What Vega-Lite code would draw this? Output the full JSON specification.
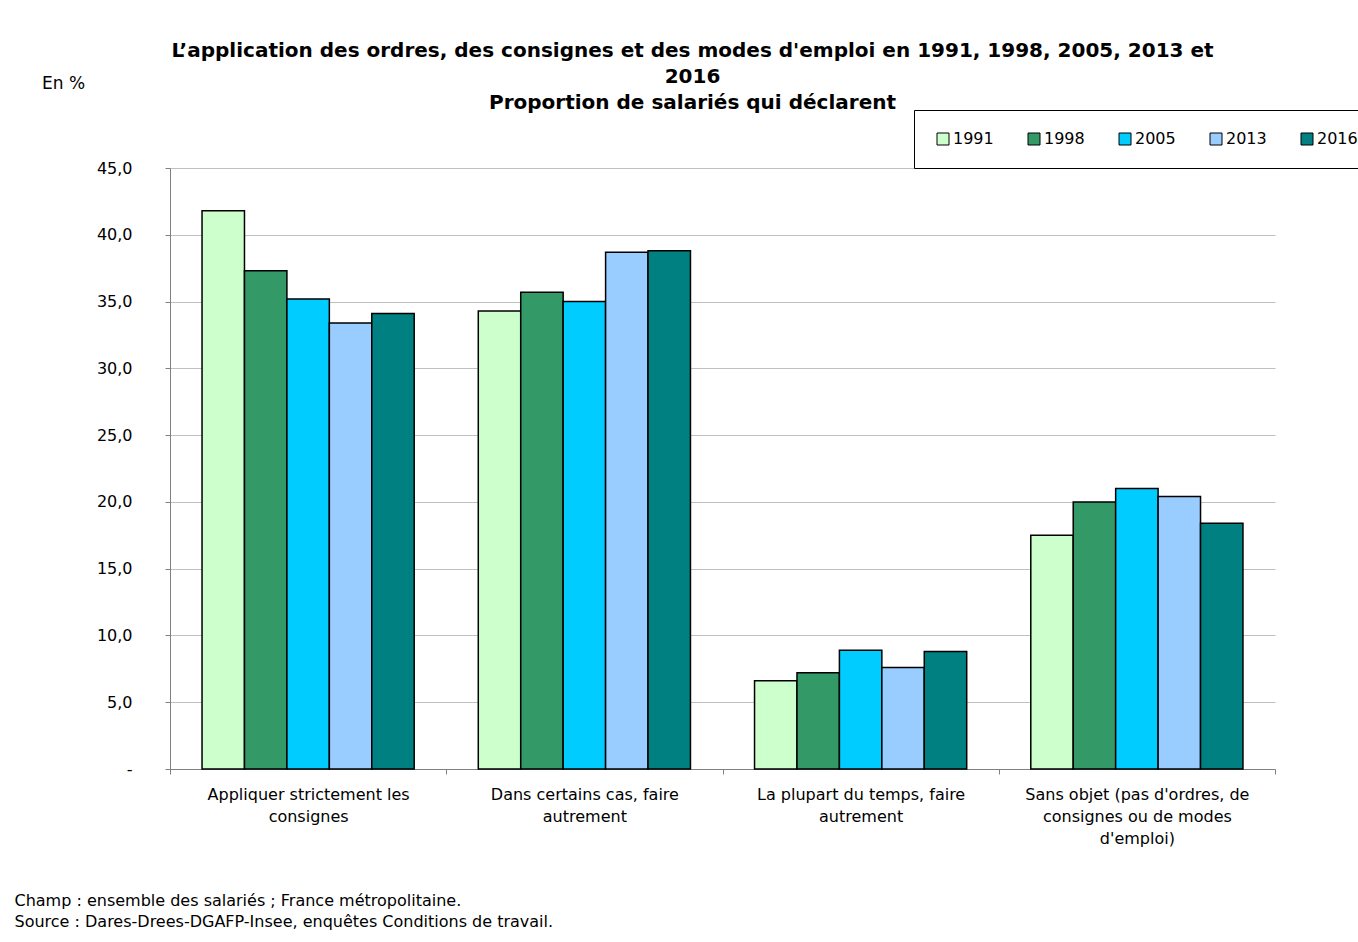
{
  "$schema": "https://vega.github.io/schema/vega-lite/v6.json",
  "width": 1105,
  "height": 601,
  "autosize": "none",
  "padding": {"left": 170, "top": 168, "right": 83, "bottom": 173},
  "background": "white",
  "config": {"view": {"stroke": null}, "font": "DejaVu Sans"},
  "title": {
    "text": ["L’application des ordres, des consignes et des modes d'emploi en 1991, 1998, 2005, 2013 et", "2016"],
    "subtitle": "Proportion de salariés qui déclarent",
    "anchor": "middle",
    "frame": "group",
    "dx": -30,
    "dy": 43,
    "fontSize": 20,
    "fontWeight": "bold",
    "subtitleFontSize": 20,
    "subtitleFontWeight": "bold",
    "lineHeight": 26,
    "subtitleLineHeight": 26,
    "subtitlePadding": 6,
    "color": "black",
    "subtitleColor": "black",
    "offset": 4
  },
  "data": {
    "values": [
      {"categorie": "Appliquer strictement les consignes", "annee": "1991", "valeur": 41.8},
      {"categorie": "Appliquer strictement les consignes", "annee": "1998", "valeur": 37.3},
      {"categorie": "Appliquer strictement les consignes", "annee": "2005", "valeur": 35.2},
      {"categorie": "Appliquer strictement les consignes", "annee": "2013", "valeur": 33.4},
      {"categorie": "Appliquer strictement les consignes", "annee": "2016", "valeur": 34.1},
      {"categorie": "Dans certains cas, faire autrement", "annee": "1991", "valeur": 34.3},
      {"categorie": "Dans certains cas, faire autrement", "annee": "1998", "valeur": 35.7},
      {"categorie": "Dans certains cas, faire autrement", "annee": "2005", "valeur": 35.0},
      {"categorie": "Dans certains cas, faire autrement", "annee": "2013", "valeur": 38.7},
      {"categorie": "Dans certains cas, faire autrement", "annee": "2016", "valeur": 38.8},
      {"categorie": "La plupart du temps, faire autrement", "annee": "1991", "valeur": 6.6},
      {"categorie": "La plupart du temps, faire autrement", "annee": "1998", "valeur": 7.2},
      {"categorie": "La plupart du temps, faire autrement", "annee": "2005", "valeur": 8.9},
      {"categorie": "La plupart du temps, faire autrement", "annee": "2013", "valeur": 7.6},
      {"categorie": "La plupart du temps, faire autrement", "annee": "2016", "valeur": 8.8},
      {"categorie": "Sans objet (pas d'ordres, de consignes ou de modes d'emploi)", "annee": "1991", "valeur": 17.5},
      {"categorie": "Sans objet (pas d'ordres, de consignes ou de modes d'emploi)", "annee": "1998", "valeur": 20.0},
      {"categorie": "Sans objet (pas d'ordres, de consignes ou de modes d'emploi)", "annee": "2005", "valeur": 21.0},
      {"categorie": "Sans objet (pas d'ordres, de consignes ou de modes d'emploi)", "annee": "2013", "valeur": 20.4},
      {"categorie": "Sans objet (pas d'ordres, de consignes ou de modes d'emploi)", "annee": "2016", "valeur": 18.4}
    ]
  },
  "mark": {"type": "bar", "stroke": "black", "strokeWidth": 1.5},
  "encoding": {
    "x": {
      "field": "categorie",
      "type": "nominal",
      "sort": null,
      "scale": {"paddingInner": 0, "paddingOuter": 0},
      "axis": {
        "title": ["Champ : ensemble des salariés ; France métropolitaine.", "Source : Dares-Drees-DGAFP-Insee, enquêtes Conditions de travail."],
        "titleX": -156,
        "titleY": 123,
        "titleAlign": "left",
        "titleBaseline": "top",
        "titleAngle": 0,
        "titleFontSize": 16,
        "titleFontWeight": "normal",
        "titleColor": "black",
        "titleLineHeight": 21,
        "labelAngle": 0,
        "labelFontSize": 16,
        "labelColor": "black",
        "labelLineHeight": 22,
        "labelBaseline": "top",
        "labelPadding": 12,
        "labelLimit": 400,
        "labelExpr": "datum.label == 'Appliquer strictement les consignes' ? ['Appliquer strictement les', 'consignes'] : datum.label == 'Dans certains cas, faire autrement' ? ['Dans certains cas, faire', 'autrement'] : datum.label == 'La plupart du temps, faire autrement' ? ['La plupart du temps, faire', 'autrement'] : datum.label == 'Sans objet (pas d\\'ordres, de consignes ou de modes d\\'emploi)' ? ['Sans objet (pas d\\'ordres, de', 'consignes ou de modes', 'd\\'emploi)'] : ''",
        "tickBand": "extent",
        "tickSize": 5,
        "tickColor": "#808080",
        "domainColor": "#808080",
        "grid": false
      }
    },
    "xOffset": {
      "field": "annee",
      "type": "nominal",
      "scale": {"paddingInner": 0, "paddingOuter": 0.755}
    },
    "y": {
      "field": "valeur",
      "type": "quantitative",
      "scale": {"domain": [0, 45], "nice": false},
      "axis": {
        "values": [0, 5, 10, 15, 20, 25, 30, 35, 40, 45],
        "labelExpr": "datum.value == 0 ? '-' : replace(format(datum.value, '.1f'), '.', ',')",
        "labelFontSize": 16,
        "labelColor": "black",
        "labelPadding": 33,
        "tickSize": 5,
        "tickColor": "#808080",
        "domainColor": "#808080",
        "gridColor": "#c0c0c0",
        "title": "En %",
        "titleAngle": 0,
        "titleX": -107,
        "titleY": -85,
        "titleAlign": "center",
        "titleBaseline": "middle",
        "titleFontSize": 17,
        "titleFontWeight": "normal",
        "titleColor": "black"
      }
    },
    "color": {
      "field": "annee",
      "type": "nominal",
      "scale": {"domain": ["1991", "1998", "2005", "2013", "2016"], "range": ["#CCFFCC", "#339966", "#00CCFF", "#99CCFF", "#008080"]},
      "legend": {
        "title": null,
        "orient": "none",
        "legendX": 744,
        "legendY": -58,
        "direction": "horizontal",
        "strokeColor": "black",
        "fillColor": "white",
        "padding": 21,
        "symbolType": "square",
        "symbolSize": 144,
        "symbolStrokeColor": "black",
        "symbolStrokeWidth": 1,
        "labelFontSize": 16,
        "labelColor": "black",
        "labelOffset": 2,
        "columnPadding": 32
      }
    }
  }
}
